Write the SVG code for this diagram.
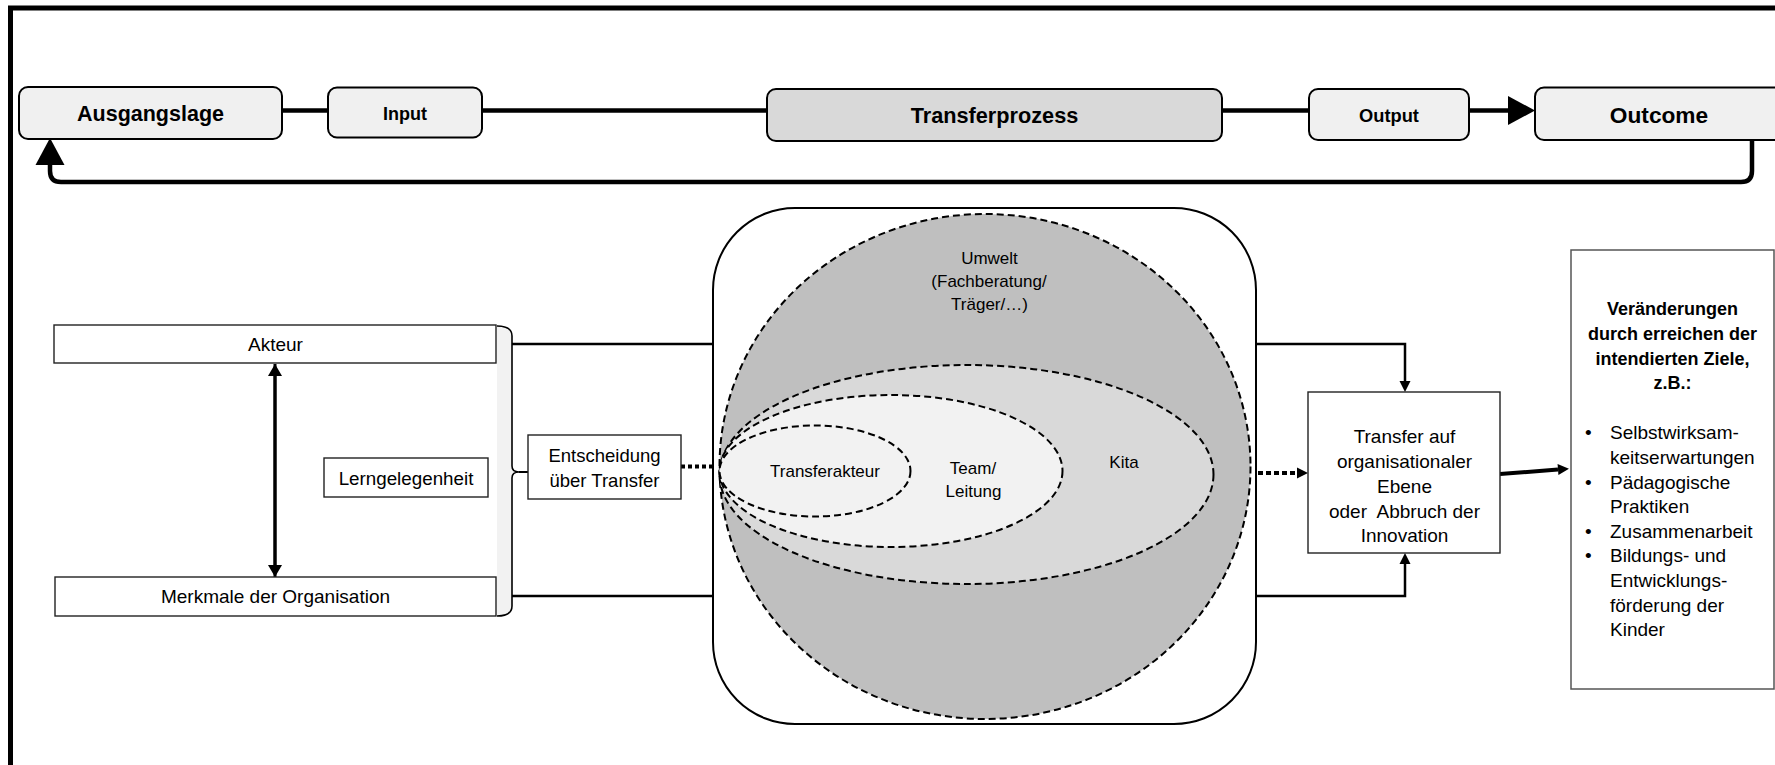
<svg xmlns="http://www.w3.org/2000/svg" width="1775" height="765" viewBox="0 0 1775 765">
  <style>
    text { font-family: "Liberation Sans", Arial, sans-serif; fill: #000; }
    .hd { font-weight: bold; text-anchor: middle; }
    .c { text-anchor: middle; }
    .lb { font-size: 19px; }
    .in { font-size: 17px; }
    .pill { fill: #f0f0f0; stroke: #000; stroke-width: 2; }
    .box { fill: #fff; stroke: #222; stroke-width: 1.4; }
    .flow { fill: none; stroke: #000; stroke-width: 4.5; }
    .wire { fill: none; stroke: #000; stroke-width: 2.5; }
    .dot { fill: none; stroke: #000; stroke-width: 4; stroke-dasharray: 4 3; }
    .ring { stroke: #000; stroke-width: 2; stroke-dasharray: 7 4; }
  </style>
  <defs>
    <marker id="bigHead" markerUnits="userSpaceOnUse" markerWidth="28" markerHeight="30" refX="0" refY="14.5" orient="auto" overflow="visible">
      <path d="M0,0 L27,14.5 L0,29 z" fill="#000"/>
    </marker>
    <marker id="head" markerUnits="userSpaceOnUse" markerWidth="12" markerHeight="12" refX="0" refY="5.5" orient="auto" overflow="visible">
      <path d="M0,0 L11,5.5 L0,11 z" fill="#000"/>
    </marker>
    <marker id="headW" markerUnits="userSpaceOnUse" markerWidth="13" markerHeight="14" refX="0" refY="7" orient="auto" overflow="visible">
      <path d="M0,0 L12,7 L0,14 z" fill="#000"/>
    </marker>
  </defs>

  <!-- outer frame, running off the right and bottom edges -->
  <rect x="10.5" y="8" width="1820" height="820" fill="none" stroke="#000" stroke-width="5"/>

  <!-- connectors -->
  <g id="connectors">
    <!-- process chain -->
    <path class="flow" d="M282,110.5 H328"/>
    <path class="flow" d="M482,110.5 H767"/>
    <path class="flow" d="M1222,110.5 H1309"/>
    <path class="flow" d="M1469,110.5 H1508" marker-end="url(#bigHead)"/>
    <!-- feedback loop -->
    <path class="flow" d="M1752,140 V171 Q1752,182 1741,182 H61 Q50,182 50,171 V165" marker-end="url(#bigHead)"/>
    <!-- actor / organisation -->
    <path d="M275,577 V376" fill="none" stroke="#000" stroke-width="3" marker-end="url(#headW)"/>
    <path d="M275,364 V565" fill="none" stroke="#000" stroke-width="3" marker-end="url(#headW)"/>
    <!-- brace nib -->
    <path d="M519,472 H528" fill="none" stroke="#000" stroke-width="2"/>
    <!-- into the transfer space -->
    <path class="wire" d="M512,344 H713"/>
    <path class="wire" d="M512,596 H713"/>
    <path class="dot" d="M681,466.5 H719"/>
    <!-- out of the transfer space -->
    <path class="wire" d="M1256,344 H1405 V381" marker-end="url(#head)"/>
    <path class="wire" d="M1256,596 H1405 V564" marker-end="url(#head)"/>
    <path d="M1258,473 H1297" fill="none" stroke="#000" stroke-width="4" stroke-dasharray="5 3" marker-end="url(#head)"/>
    <path d="M1500,474 L1558,469.5" fill="none" stroke="#000" stroke-width="4" marker-end="url(#head)"/>
  </g>

  <!-- top row -->
  <g id="ausgangslage">
    <rect class="pill" x="19" y="87" width="263" height="52" rx="9"/>
    <text class="hd" x="150.5" y="121" font-size="21.5">Ausgangslage</text>
  </g>
  <g id="input">
    <rect class="pill" x="328" y="87.5" width="154" height="50" rx="9"/>
    <text class="hd" x="405" y="119.5" font-size="18">Input</text>
  </g>
  <g id="transferprozess">
    <rect x="767" y="89" width="455" height="52" rx="9" fill="#d9d9d9" stroke="#000" stroke-width="2"/>
    <text class="hd" x="994.5" y="123" font-size="21.7">Transferprozess</text>
  </g>
  <g id="output">
    <rect class="pill" x="1309" y="89" width="160" height="51" rx="9"/>
    <text class="hd" x="1389" y="122" font-size="18.3">Output</text>
  </g>
  <g id="outcome">
    <rect class="pill" x="1535" y="87.5" width="280" height="52.5" rx="9"/>
    <text class="hd" x="1659" y="122.5" font-size="22.7">Outcome</text>
  </g>

  <!-- left column -->
  <g id="akteur">
    <rect class="box" x="54" y="325" width="442" height="38"/>
    <text class="c lb" x="275.5" y="351">Akteur</text>
  </g>
  <g id="merkmale">
    <rect class="box" x="55" y="577" width="441" height="39"/>
    <text class="c lb" x="275.5" y="602.5">Merkmale der Organisation</text>
  </g>
  <g id="lerngelegenheit">
    <rect class="box" x="324" y="458" width="164" height="39"/>
    <text class="c" x="406" y="484.5" font-size="18.8">Lerngelegenheit</text>
  </g>
  <g id="brace">
    <path d="M497,326 Q512,326 512,336 V466 Q512,472 519,472 Q512,472 512,478 V606 Q512,616 497,616 Z" fill="#f2f2f2" stroke="none"/>
    <path d="M497,326 Q512,326 512,336 V466 Q512,472 519,472 Q512,472 512,478 V606 Q512,616 497,616" fill="none" stroke="#000" stroke-width="1.6"/>
  </g>
  <g id="entscheidung">
    <rect class="box" x="528" y="435" width="153" height="64"/>
    <text class="c" x="604.5" y="462" font-size="18.5">Entscheidung</text>
    <text class="c" x="604.5" y="487" font-size="18.5">über Transfer</text>
  </g>

  <!-- transfer space with nested environments -->
  <g id="transferraum">
    <rect x="713" y="208" width="543" height="516" rx="82" fill="#fff" stroke="#000" stroke-width="2"/>
  </g>
  <g id="umwelt">
    <ellipse class="ring" cx="985" cy="466.5" rx="265.5" ry="252.5" fill="#bfbfbf"/>
    <text class="c in" x="989.5" y="264">Umwelt</text>
    <text class="c in" x="989" y="287">(Fachberatung/</text>
    <text class="c in" x="989.5" y="310">Träger/…)</text>
  </g>
  <g id="kita">
    <ellipse class="ring" cx="966.5" cy="474.5" rx="247" ry="109.5" fill="#d9d9d9"/>
    <text class="c in" x="1124" y="468">Kita</text>
  </g>
  <g id="team">
    <ellipse class="ring" cx="891" cy="471" rx="171.5" ry="76" fill="#f2f2f2"/>
    <text class="c in" x="973" y="474">Team/</text>
    <text class="c in" x="973.5" y="496.5">Leitung</text>
  </g>
  <g id="transferakteur">
    <ellipse class="ring" cx="815" cy="471" rx="95.5" ry="45.5" fill="#f2f2f2"/>
    <text class="c in" x="825" y="477">Transferakteur</text>
  </g>

  <!-- result side -->
  <g id="transfer-ebene">
    <rect class="box" x="1308" y="392" width="192" height="161"/>
    <text class="c lb" x="1404.5" y="443">Transfer auf</text>
    <text class="c lb" x="1404.5" y="468">organisationaler</text>
    <text class="c lb" x="1404.5" y="493">Ebene</text>
    <text class="c lb" x="1404.5" y="517.5" xml:space="preserve">oder  Abbruch der</text>
    <text class="c lb" x="1404.5" y="542">Innovation</text>
  </g>
  <g id="veraenderungen">
    <rect x="1571" y="250" width="203" height="439" fill="#fff" stroke="#555" stroke-width="1.5"/>
    <text class="hd" x="1672.5" y="315" font-size="18">Veränderungen</text>
    <text class="hd" x="1672.5" y="339.5" font-size="18">durch erreichen der</text>
    <text class="hd" x="1672.5" y="364.5" font-size="18">intendierten Ziele,</text>
    <text class="hd" x="1672.5" y="389" font-size="18">z.B.:</text>
    <g class="lb">
      <text x="1585" y="438.5">•</text>
      <text x="1610" y="438.5">Selbstwirksam-</text>
      <text x="1610" y="463.5">keitserwartungen</text>
      <text x="1585" y="488.5">•</text>
      <text x="1610" y="488.5">Pädagogische</text>
      <text x="1610" y="513">Praktiken</text>
      <text x="1585" y="537.5">•</text>
      <text x="1610" y="537.5">Zusammenarbeit</text>
      <text x="1585" y="562">•</text>
      <text x="1610" y="562">Bildungs- und</text>
      <text x="1610" y="587">Entwicklungs-</text>
      <text x="1610" y="611.5">förderung der</text>
      <text x="1610" y="636">Kinder</text>
    </g>
  </g>
</svg>
